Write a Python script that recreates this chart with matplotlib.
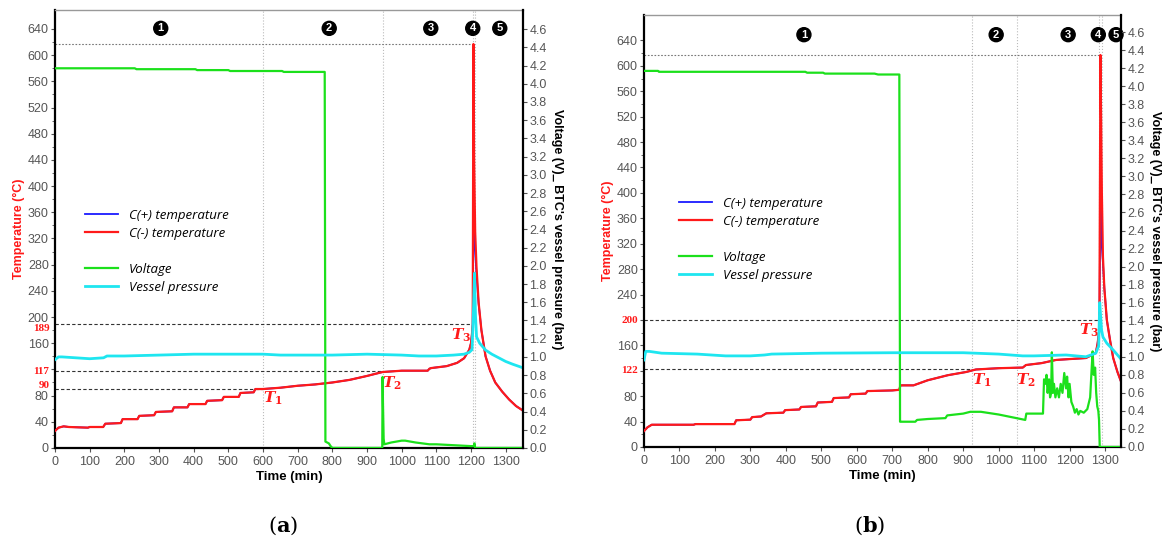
import numpy as np
import matplotlib.pyplot as plt
from matplotlib.lines import Line2D
from matplotlib.transforms import blended_transform_factory

plt.rcParams['font.family'] = 'Liberation Sans'
plt.rcParams['mathtext.fontset'] = 'custom'
plt.rcParams['mathtext.it'] = 'DejaVu Serif:italic:bold'
plt.rcParams['mathtext.rm'] = 'DejaVu Serif:bold'
plt.rcParams['mathtext.bf'] = 'DejaVu Serif:bold'

# ---------------- panel (a) data ----------------
a_temp_time = [0, 10, 25, 40, 95, 100, 139, 145, 190, 195, 238, 243, 286, 291, 338, 343, 382, 387,
               434, 439, 482, 487, 530, 535, 573, 578, 600, 650, 700, 750, 800, 850, 900, 945,
               1000, 1075, 1080, 1085, 1130, 1160, 1180, 1195, 1200, 1203, 1205, 1207, 1209, 1212,
               1216, 1222, 1230, 1242, 1255, 1270, 1290, 1310, 1330, 1350]
a_temp_minus = [26, 31, 33, 32, 31, 32, 32, 37, 38, 44, 44, 49, 50, 55, 56, 62, 62, 67,
                67, 72, 73, 78, 78, 84, 85, 90, 90, 92, 95, 97, 100, 104, 110, 116,
                118, 118, 121, 122, 125, 130, 137, 150, 160, 175, 189, 617, 440, 330,
                275, 222, 180, 140, 118, 100, 86, 74, 64, 57]
a_temp_plus = [26, 31, 33, 32, 31, 32, 32, 37, 38, 44, 44, 49, 50, 55, 56, 62, 62, 67,
               67, 72, 73, 78, 78, 84, 85, 90, 90, 92, 95, 97, 100, 104, 110, 116,
               118, 118, 121, 122, 125, 130, 137, 150, 160, 175, 189, 340, 320, 300,
               265, 220, 180, 140, 118, 100, 86, 74, 64, 57]
a_pres_time = [0, 10, 20, 60, 100, 140, 150, 200, 300, 400, 500, 600, 650, 700, 800, 900, 1000,
               1050, 1100, 1150, 1180, 1195, 1203, 1207, 1210, 1213, 1216, 1225, 1242, 1260,
               1280, 1300, 1320, 1350]
a_pres = [0.97, 1.00, 1.00, 0.99, 0.98, 0.99, 1.01, 1.01, 1.02, 1.03, 1.03, 1.03, 1.02, 1.02,
          1.02, 1.03, 1.02, 1.01, 1.01, 1.02, 1.03, 1.05, 1.08, 1.5, 1.92, 1.45, 1.22, 1.15,
          1.075, 1.03, 0.99, 0.95, 0.92, 0.88]
a_volt_time = [0, 100, 230, 235, 405, 410, 500, 505, 580, 585, 655, 660, 770, 778, 780, 790, 795,
               800, 944, 945, 946, 948, 950, 970, 1000, 1010, 1040, 1080, 1100, 1150, 1200, 1208,
               1210, 1212, 1350]
a_volt = [4.17, 4.17, 4.17, 4.16, 4.16, 4.15, 4.15, 4.14, 4.14, 4.14, 4.14, 4.13, 4.13, 4.13,
          0.07, 0.05, 0.02, 0.0, 0.0, 0.78, 0.5, 0.1, 0.04, 0.06, 0.08, 0.08, 0.06, 0.04, 0.04,
          0.03, 0.02, 0.02, 0.05, 0.0, 0.0]
a_stage_time = [305, 791, 1084, 1205, 1283]
a_event_time = [600, 945, 1205, 1212]
a_ref_temp = [189, 117, 90]
a_ref_end = [1205, 945, 600]

# ---------------- panel (b) data ----------------
b_temp_time = [0, 10, 22, 140, 145, 255, 260, 300, 305, 330, 345, 393, 398, 438, 443, 485, 490,
               530, 535, 578, 583, 625, 630, 700, 720, 723, 760, 800, 857, 908, 936, 1000, 1068,
               1077, 1121, 1162, 1246, 1274, 1279, 1284, 1287, 1289, 1291, 1294, 1298, 1305, 1315,
               1323, 1335, 1345]
b_temp_minus = [25, 31, 35, 35, 36, 36, 42, 43, 47, 48, 53, 54, 58, 59, 63, 64, 70,
                71, 77, 78, 83, 84, 88, 89, 90, 97, 97, 105, 113, 118, 122, 124, 125,
                129, 132, 137, 140, 148, 163, 185, 617, 510, 400, 300, 250, 200, 165,
                140, 118, 103]
b_temp_plus = [25, 31, 35, 35, 36, 36, 42, 43, 47, 48, 53, 54, 58, 59, 63, 64, 70,
               71, 77, 78, 83, 84, 88, 89, 90, 97, 97, 105, 113, 118, 122, 124, 125,
               129, 132, 137, 140, 148, 163, 185, 400, 360, 315, 290, 250, 200, 165,
               140, 118, 103]
b_pres_time = [0, 5, 15, 50, 150, 190, 230, 300, 340, 360, 500, 700, 900, 1000, 1068, 1100, 1190,
               1246, 1274, 1282, 1285, 1290, 1294, 1305, 1323, 1345]
b_pres = [0.965, 1.06, 1.06, 1.04, 1.03, 1.02, 1.01, 1.01, 1.02, 1.03, 1.04, 1.045, 1.045, 1.03,
          1.01, 1.01, 1.02, 1.0, 1.04, 1.12, 1.6, 1.3, 1.22, 1.15, 1.075, 0.975]
b_volt_time = [0, 40, 42, 455, 460, 505, 510, 650, 660, 720, 722, 724, 765, 770, 800,
               850, 855, 900, 920, 950, 1000, 1050, 1075, 1078, 1125, 1128, 1132, 1135, 1138,
               1142, 1145, 1148, 1150, 1153, 1156, 1160, 1165, 1170, 1175, 1180, 1185, 1190,
               1193, 1197, 1200, 1205, 1210, 1215, 1220, 1225, 1230, 1240, 1250, 1258, 1262,
               1265, 1268, 1272, 1275, 1278, 1281, 1283, 1285, 1345]
b_volt = [4.17, 4.17, 4.16, 4.16, 4.15, 4.15, 4.14, 4.14, 4.13, 4.13, 0.28, 0.28,
          0.28, 0.3, 0.31, 0.32, 0.35, 0.37, 0.39, 0.39, 0.36, 0.32, 0.3, 0.37, 0.37, 0.75,
          0.7, 0.8, 0.6, 0.75, 0.55, 0.6, 1.05, 0.6, 0.7, 0.55, 0.65, 0.55, 0.7, 0.6, 0.82,
          0.65, 0.78, 0.55, 0.7, 0.5, 0.45, 0.38, 0.42, 0.36, 0.4, 0.38, 0.42, 0.55, 0.85,
          1.06, 0.8, 0.88, 0.6, 0.45, 0.4, 0.3, 0.0, 0.0]
b_stage_time = [451, 993, 1196, 1281, 1331]
b_event_time = [925, 1052, 1283, 1292]
b_ref_temp = [200, 122]
b_ref_end = [1283, 925]

peak_temp = 617
stage_labels = ['1', '2', '3', '4', '5']
legend_labels = ['C(+) temperature', 'C(-) temperature', ' ', 'Voltage', 'Vessel pressure']

RED, BLUE, GREEN, CYAN = '#ff1a1a', '#1a1aff', '#1be01b', '#1ee6f0'
TICK_GRAY = '#555555'


def draw_panel(rect, temp_time, temp_minus, temp_plus, pres_time, pres, volt_time, volt,
               stage_time, event_time, ref_temp, ref_end, xmax, ymax, y2max, stage_y,
               hidden_ticks, ref_label_y, t_labels, legend_xy, caption, caption_x):
    ax = fig.add_axes(rect)
    ax2 = ax.twinx()

    # event markers and reference lines
    for t in event_time:
        ax.axvline(t, color='#bbbbbb', lw=0.8, ls=':', zorder=1)
    ax.hlines(peak_temp, 0, event_time[2], color='#777777', lw=0.8, ls=(0, (1.5, 1.5)), zorder=1)
    for temp, end in zip(ref_temp, ref_end):
        ax.hlines(temp, 0, end, color='#333333', lw=0.8, ls=(0, (3, 2)), zorder=1)

    l_plus, = ax.plot(temp_time, temp_plus, color=BLUE, lw=1.3, zorder=3)
    l_minus, = ax.plot(temp_time, temp_minus, color=RED, lw=1.6, zorder=4)
    l_volt, = ax2.plot(volt_time, volt, color=GREEN, lw=1.6)
    l_pres, = ax2.plot(pres_time, pres, color=CYAN, lw=2.0)

    ax.set_xlim(0, xmax)
    ax.set_ylim(0, ymax)
    ax2.set_ylim(0, y2max)

    yt = np.arange(0, 641, 40)
    ax.set_yticks(yt)
    ax.set_yticklabels(['' if v in hidden_ticks else str(v) for v in yt])
    ax.set_yticks(np.arange(20, 660, 40), minor=True)
    ax.set_xticks(np.arange(0, 1301, 100))
    y2t = np.arange(0, 4.61, 0.2)
    ax2.set_yticks(y2t)
    ax2.set_yticklabels(['%.1f' % v for v in y2t])

    for a in (ax, ax2):
        a.tick_params(colors=TICK_GRAY, labelsize=9, length=3, width=0.8, pad=1.5)
        a.tick_params(which='minor', length=2, color=TICK_GRAY)
        for s in a.spines.values():
            s.set_visible(False)
    ax.tick_params(axis='x', pad=3)
    ax.spines['left'].set_visible(True)
    ax.spines['bottom'].set_visible(True)
    ax.spines['top'].set_visible(True)
    ax2.spines['right'].set_visible(True)
    ax.spines['left'].set_linewidth(1.6)
    ax.spines['bottom'].set_linewidth(1.6)
    ax2.spines['right'].set_linewidth(1.6)
    ax.spines['top'].set_color('#999999')
    ax.spines['top'].set_linewidth(1.0)

    # highlighted temperatures on the left axis
    trans = blended_transform_factory(ax.transAxes, ax.transData)
    for temp, y in zip(ref_temp, ref_label_y):
        ax.text(-0.012, y, str(temp), transform=trans, ha='right', va='center', color=RED,
                fontsize=8, fontweight='bold', family='Liberation Serif')

    for x, y, s in t_labels:
        ax.text(x, y, s, color=RED, fontsize=11, ha='center', va='center', zorder=6)

    for t, s in zip(stage_time, stage_labels):
        ax.text(t, stage_y, s, color='white', fontsize=8, fontweight='bold', ha='center',
                va='center', zorder=6,
                bbox=dict(boxstyle='circle,pad=0.18', fc='black', ec='black'))

    ax.set_ylabel('Temperature (°C)', color=RED, fontsize=9, fontweight='bold', labelpad=2)
    ax.set_xlabel('Time (min)', fontsize=9.5, fontweight='bold', labelpad=2)
    ax2.set_ylabel("Voltage (V)_ BTC's vessel pressure (bar)", fontsize=9, fontweight='bold',
                   rotation=270, labelpad=12)

    blank = Line2D([], [], color='none')
    ax2.legend([l_plus, l_minus, blank, l_volt, l_pres], legend_labels, loc='upper left',
               bbox_to_anchor=legend_xy, frameon=False, borderpad=0, borderaxespad=0,
               handlelength=2.5, handletextpad=0.85, labelspacing=0.38,
               prop={'family': 'Open Sans', 'style': 'italic', 'size': 9.5})

    fig.text(caption_x, 0.028, '(' + r'$\mathbf{' + caption + '}$' + ')', ha='center',
             va='center', fontsize=15, family='DejaVu Serif')
    return ax, ax2


fig = plt.figure(figsize=(11.63, 5.41), dpi=100)

draw_panel([0.0473, 0.172, 0.4024, 0.8095], a_temp_time, a_temp_minus, a_temp_plus,
           a_pres_time, a_pres, a_volt_time, a_volt, a_stage_time, a_event_time, a_ref_temp,
           a_ref_end, 1350, 669, 4.81, 641, [120], [182, 117, 96],
           [(627, 76, '$T_1$'), (973, 99, '$T_2$'), (1172, 172, '$T_3$')],
           (0.064, 0.546), 'a', 0.2435)

draw_panel([0.5537, 0.1738, 0.4102, 0.7985], b_temp_time, b_temp_minus, b_temp_plus,
           b_pres_time, b_pres, b_volt_time, b_volt, b_stage_time, b_event_time, b_ref_temp,
           b_ref_end, 1345, 680, 4.79, 649, [120, 200], [199, 121],
           [(953, 105, '$T_1$'), (1077, 105, '$T_2$'), (1255, 184, '$T_3$')],
           (0.073, 0.579), 'b', 0.748)

fig.savefig('out.png', dpi=100)
